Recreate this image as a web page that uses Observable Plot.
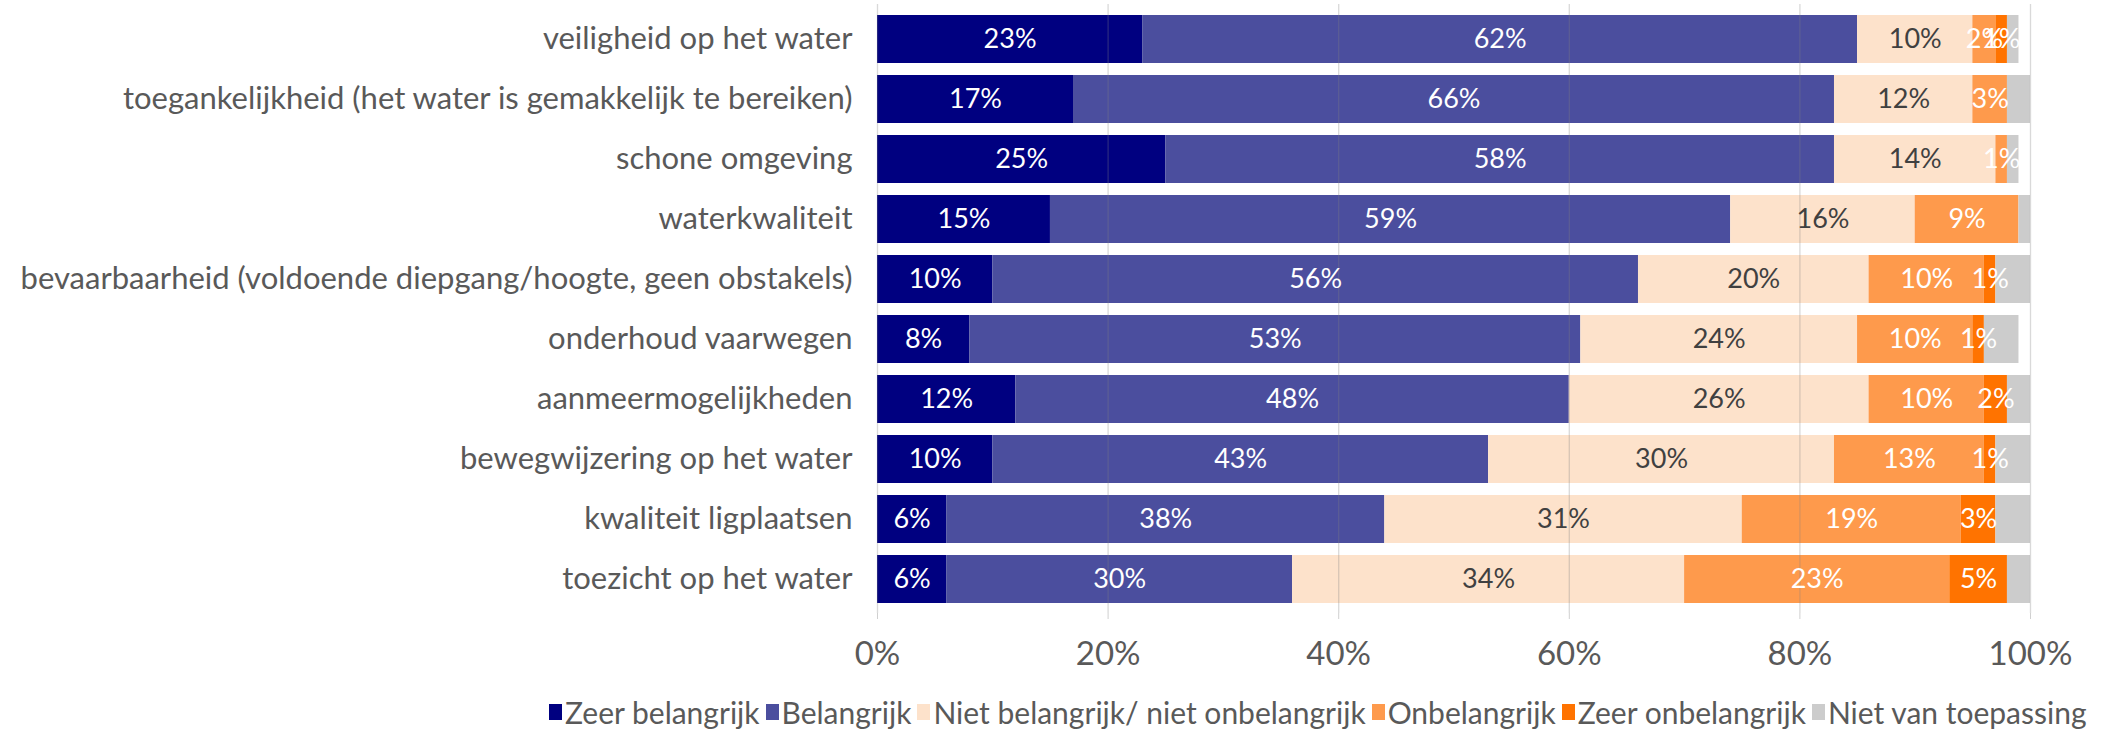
<!DOCTYPE html>
<html>
<head>
<meta charset="utf-8">
<script src="https://cdn.jsdelivr.net/npm/d3@7"></script>
<script src="https://cdn.jsdelivr.net/npm/@observablehq/plot@0.6"></script>
<style>
  body { margin: 0; background: white; }
  #wrap { position: relative; width: 2102px; height: 729px; font-family: "Lato", sans-serif; }
  #legend { position: absolute; left: 549px; top: 696px; height: 32px; display: flex; align-items: center; font-size: 30px; color: #595959; white-space: nowrap; }
  .item { display: flex; align-items: center; margin-right: 6px; }
  .sw { width: 13px; height: 16px; margin-right: 3px; }
</style>
</head>
<body>
<div id="wrap"><div id="chart"></div><div id="legend"></div></div>
<script>
const items = [
  "veiligheid op het water",
  "toegankelijkheid (het water is gemakkelijk te bereiken)",
  "schone omgeving",
  "waterkwaliteit",
  "bevaarbaarheid (voldoende diepgang/hoogte, geen obstakels)",
  "onderhoud vaarwegen",
  "aanmeermogelijkheden",
  "bewegwijzering op het water",
  "kwaliteit ligplaatsen",
  "toezicht op het water"
];
const categories = ["Zeer belangrijk", "Belangrijk", "Niet belangrijk/ niet onbelangrijk", "Onbelangrijk", "Zeer onbelangrijk", "Niet van toepassing"];
const colors = ["#000080", "#4b4e9e", "#fde2cb", "#fe9a4c", "#ff7300", "#cccccc"];
const zeerBelangrijk   = [23, 17, 25, 15, 10, 8, 12, 10, 6, 6];
const belangrijk       = [62, 66, 58, 59, 56, 53, 48, 43, 38, 30];
const neutraal         = [10, 12, 14, 16, 20, 24, 26, 30, 31, 34];
const onbelangrijk     = [2, 3, 1, 9, 10, 10, 10, 13, 19, 23];
const zeerOnbelangrijk = [1, 0, 0, 0, 1, 1, 2, 1, 3, 5];
const nietVanToepassing= [1, 2, 1, 1, 3, 3, 2, 3, 3, 2];
const xTicks = [0, 20, 40, 60, 80, 100];

const series = [zeerBelangrijk, belangrijk, neutraal, onbelangrijk, zeerOnbelangrijk, nietVanToepassing];
const rows = [];
items.forEach((item, i) => series.forEach((s, j) => rows.push({item, cat: categories[j], value: s[i]})));

const stackOpts = {x: "value", y: "item", z: "cat", order: categories};
const isNeutral = d => d.cat === categories[2];
const labelled = d => d.value > 0 && d.cat !== categories[5];

const chart = Plot.plot({
  width: 2102,
  height: 690,
  marginTop: 4,
  marginBottom: 77,
  marginLeft: 877,
  marginRight: 72,
  style: {fontFamily: "Lato, sans-serif", background: "white"},
  x: {domain: [0, 100], label: null},
  y: {domain: items, paddingInner: 0.204, paddingOuter: 0.1, label: null},
  color: {domain: categories, range: colors},
  marks: [
    Plot.barX(rows, Plot.stackX({...stackOpts, fill: "cat"})),
    Plot.gridX(xTicks, {stroke: "#808080", strokeOpacity: 0.3, strokeWidth: 1.3}),
    Plot.textX(rows, Plot.stackX({...stackOpts, text: d => labelled(d) && !isNeutral(d) ? d.value + "%" : "", fill: "white", fontSize: 27})),
    Plot.textX(rows, Plot.stackX({...stackOpts, text: d => isNeutral(d) ? d.value + "%" : "", fill: "#404040", fontSize: 27})),
    Plot.axisX({ticks: xTicks, tickSize: 6, tickFormat: () => "", color: "#d0d0d0", label: null}),
    Plot.axisX({ticks: xTicks, tickSize: 0, tickPadding: 28, tickFormat: d => d + "%", fontSize: 33, color: "#595959", label: null}),
    Plot.axisY({tickSize: 0, tickPadding: 25, fontSize: 31, color: "#595959", label: null})
  ]
});
document.getElementById("chart").appendChild(chart);

const legend = document.getElementById("legend");
categories.forEach((c, i) => {
  const it = document.createElement("div");
  it.className = "item";
  const sw = document.createElement("div");
  sw.className = "sw";
  sw.style.background = colors[i];
  const tx = document.createElement("span");
  tx.textContent = c;
  it.appendChild(sw); it.appendChild(tx);
  legend.appendChild(it);
});
</script>
</body>
</html>
